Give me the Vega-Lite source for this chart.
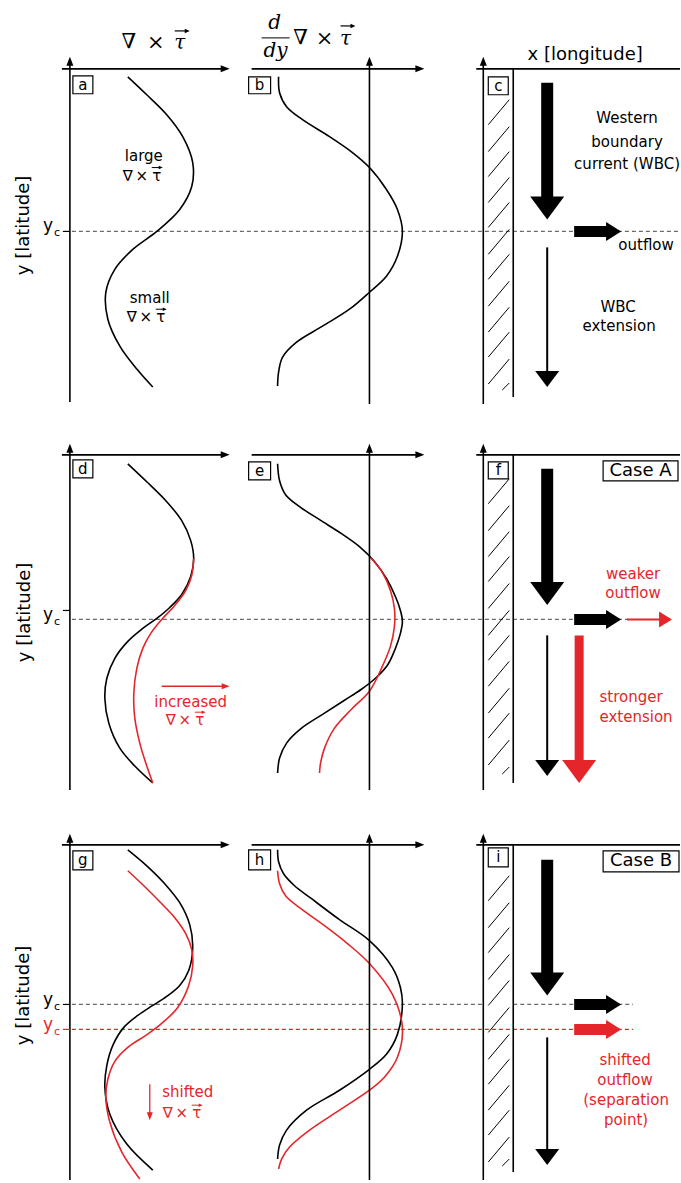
{
"$schema": "https://vega.github.io/schema/vega-lite/v6.json",
"width": 681, "height": 1183,
"autosize": {"type": "fit", "contains": "padding"},
"padding": 0,
"background": "white",
"config": {"view": {"stroke": null}},
"datasets": {
"curves": [
{"c":"a","i":0,"x":128,"y":77,"col":"k"},{"c":"a","i":1,"x":147,"y":95,"col":"k"},{"c":"a","i":2,"x":167,"y":115,"col":"k"},{"c":"a","i":3,"x":183,"y":137,"col":"k"},{"c":"a","i":4,"x":193,"y":163,"col":"k"},{"c":"a","i":5,"x":192,"y":187,"col":"k"},{"c":"a","i":6,"x":180,"y":210,"col":"k"},{"c":"a","i":7,"x":157,"y":232,"col":"k"},{"c":"a","i":8,"x":133,"y":250,"col":"k"},{"c":"a","i":9,"x":115,"y":270,"col":"k"},{"c":"a","i":10,"x":106,"y":293,"col":"k"},{"c":"a","i":11,"x":108,"y":320,"col":"k"},{"c":"a","i":12,"x":120,"y":347,"col":"k"},{"c":"a","i":13,"x":137,"y":370,"col":"k"},{"c":"a","i":14,"x":153,"y":388,"col":"k"},
{"c":"b","i":0,"x":279,"y":77,"col":"k"},{"c":"b","i":1,"x":280,"y":93,"col":"k"},{"c":"b","i":2,"x":287,"y":107,"col":"k"},{"c":"b","i":3,"x":303,"y":120,"col":"k"},{"c":"b","i":4,"x":330,"y":137,"col":"k"},{"c":"b","i":5,"x":353,"y":153,"col":"k"},{"c":"b","i":6,"x":370,"y":168,"col":"k"},{"c":"b","i":7,"x":387,"y":190,"col":"k"},{"c":"b","i":8,"x":398,"y":210,"col":"k"},{"c":"b","i":9,"x":403,"y":232,"col":"k"},{"c":"b","i":10,"x":398,"y":257,"col":"k"},{"c":"b","i":11,"x":387,"y":277,"col":"k"},{"c":"b","i":12,"x":370,"y":293,"col":"k"},{"c":"b","i":13,"x":350,"y":310,"col":"k"},{"c":"b","i":14,"x":323,"y":327,"col":"k"},{"c":"b","i":15,"x":297,"y":343,"col":"k"},{"c":"b","i":16,"x":283,"y":358,"col":"k"},{"c":"b","i":17,"x":279,"y":373,"col":"k"},{"c":"b","i":18,"x":278,"y":387,"col":"k"},
{"c":"d","i":0,"x":128,"y":465,"col":"k"},{"c":"d","i":1,"x":147,"y":483,"col":"k"},{"c":"d","i":2,"x":167,"y":503,"col":"k"},{"c":"d","i":3,"x":182,"y":522,"col":"k"},{"c":"d","i":4,"x":191,"y":542,"col":"k"},{"c":"d","i":5,"x":194,"y":560,"col":"k"},{"c":"d","i":6,"x":191,"y":578,"col":"k"},{"c":"d","i":7,"x":182,"y":596,"col":"k"},{"c":"d","i":8,"x":170,"y":609,"col":"k"},{"c":"d","i":9,"x":157,"y":620,"col":"k"},{"c":"d","i":10,"x":143,"y":630,"col":"k"},{"c":"d","i":11,"x":128,"y":643,"col":"k"},{"c":"d","i":12,"x":115,"y":660,"col":"k"},{"c":"d","i":13,"x":107,"y":680,"col":"k"},{"c":"d","i":14,"x":105,"y":700,"col":"k"},{"c":"d","i":15,"x":109,"y":725,"col":"k"},{"c":"d","i":16,"x":120,"y":750,"col":"k"},{"c":"d","i":17,"x":135,"y":768,"col":"k"},{"c":"d","i":18,"x":153,"y":785,"col":"k"},
{"c":"dr","i":0,"x":194,"y":560,"col":"r"},{"c":"dr","i":1,"x":192,"y":577,"col":"r"},{"c":"dr","i":2,"x":186,"y":592,"col":"r"},{"c":"dr","i":3,"x":175,"y":607,"col":"r"},{"c":"dr","i":4,"x":162,"y":621,"col":"r"},{"c":"dr","i":5,"x":151,"y":635,"col":"r"},{"c":"dr","i":6,"x":143,"y":650,"col":"r"},{"c":"dr","i":7,"x":137,"y":670,"col":"r"},{"c":"dr","i":8,"x":134,"y":695,"col":"r"},{"c":"dr","i":9,"x":135,"y":720,"col":"r"},{"c":"dr","i":10,"x":140,"y":745,"col":"r"},{"c":"dr","i":11,"x":146,"y":765,"col":"r"},{"c":"dr","i":12,"x":153,"y":785,"col":"r"},
{"c":"e","i":0,"x":278,"y":465,"col":"k"},{"c":"e","i":1,"x":280,"y":482,"col":"k"},{"c":"e","i":2,"x":286,"y":496,"col":"k"},{"c":"e","i":3,"x":300,"y":508,"col":"k"},{"c":"e","i":4,"x":320,"y":521,"col":"k"},{"c":"e","i":5,"x":342,"y":535,"col":"k"},{"c":"e","i":6,"x":360,"y":548,"col":"k"},{"c":"e","i":7,"x":375,"y":563,"col":"k"},{"c":"e","i":8,"x":387,"y":580,"col":"k"},{"c":"e","i":9,"x":396,"y":598,"col":"k"},{"c":"e","i":10,"x":401,"y":612,"col":"k"},{"c":"e","i":11,"x":403,"y":623,"col":"k"},{"c":"e","i":12,"x":401,"y":635,"col":"k"},{"c":"e","i":13,"x":396,"y":650,"col":"k"},{"c":"e","i":14,"x":388,"y":667,"col":"k"},{"c":"e","i":15,"x":376,"y":680,"col":"k"},{"c":"e","i":16,"x":362,"y":691,"col":"k"},{"c":"e","i":17,"x":345,"y":702,"col":"k"},{"c":"e","i":18,"x":325,"y":715,"col":"k"},{"c":"e","i":19,"x":302,"y":730,"col":"k"},{"c":"e","i":20,"x":287,"y":745,"col":"k"},{"c":"e","i":21,"x":280,"y":760,"col":"k"},{"c":"e","i":22,"x":278,"y":775,"col":"k"},
{"c":"er","i":0,"x":371,"y":559,"col":"r"},{"c":"er","i":1,"x":383,"y":574,"col":"r"},{"c":"er","i":2,"x":391,"y":592,"col":"r"},{"c":"er","i":3,"x":395,"y":610,"col":"r"},{"c":"er","i":4,"x":395,"y":628,"col":"r"},{"c":"er","i":5,"x":391,"y":648,"col":"r"},{"c":"er","i":6,"x":382,"y":670,"col":"r"},{"c":"er","i":7,"x":370,"y":693,"col":"r"},{"c":"er","i":8,"x":352,"y":711,"col":"r"},{"c":"er","i":9,"x":335,"y":730,"col":"r"},{"c":"er","i":10,"x":325,"y":750,"col":"r"},{"c":"er","i":11,"x":321,"y":765,"col":"r"},{"c":"er","i":12,"x":320,"y":775,"col":"r"},
{"c":"g","i":0,"x":128,"y":852,"col":"k"},{"c":"g","i":1,"x":147,"y":868,"col":"k"},{"c":"g","i":2,"x":165,"y":886,"col":"k"},{"c":"g","i":3,"x":180,"y":905,"col":"k"},{"c":"g","i":4,"x":190,"y":927,"col":"k"},{"c":"g","i":5,"x":193,"y":950,"col":"k"},{"c":"g","i":6,"x":189,"y":973,"col":"k"},{"c":"g","i":7,"x":180,"y":988,"col":"k"},{"c":"g","i":8,"x":167,"y":999,"col":"k"},{"c":"g","i":9,"x":153,"y":1008,"col":"k"},{"c":"g","i":10,"x":138,"y":1018,"col":"k"},{"c":"g","i":11,"x":124,"y":1030,"col":"k"},{"c":"g","i":12,"x":113,"y":1048,"col":"k"},{"c":"g","i":13,"x":107,"y":1068,"col":"k"},{"c":"g","i":14,"x":105,"y":1090,"col":"k"},{"c":"g","i":15,"x":110,"y":1117,"col":"k"},{"c":"g","i":16,"x":127,"y":1147,"col":"k"},{"c":"g","i":17,"x":153,"y":1173,"col":"k"},
{"c":"gr","i":0,"x":128,"y":873,"col":"r"},{"c":"gr","i":1,"x":144,"y":888,"col":"r"},{"c":"gr","i":2,"x":160,"y":904,"col":"r"},{"c":"gr","i":3,"x":175,"y":920,"col":"r"},{"c":"gr","i":4,"x":186,"y":936,"col":"r"},{"c":"gr","i":5,"x":192,"y":952,"col":"r"},{"c":"gr","i":6,"x":193,"y":968,"col":"r"},{"c":"gr","i":7,"x":189,"y":988,"col":"r"},{"c":"gr","i":8,"x":178,"y":1010,"col":"r"},{"c":"gr","i":9,"x":162,"y":1026,"col":"r"},{"c":"gr","i":10,"x":146,"y":1038,"col":"r"},{"c":"gr","i":11,"x":128,"y":1050,"col":"r"},{"c":"gr","i":12,"x":115,"y":1064,"col":"r"},{"c":"gr","i":13,"x":108,"y":1082,"col":"r"},{"c":"gr","i":14,"x":106,"y":1100,"col":"r"},{"c":"gr","i":15,"x":110,"y":1125,"col":"r"},{"c":"gr","i":16,"x":122,"y":1155,"col":"r"},{"c":"gr","i":17,"x":140,"y":1182,"col":"r"},
{"c":"h","i":0,"x":278,"y":852,"col":"k"},{"c":"h","i":1,"x":279,"y":864,"col":"k"},{"c":"h","i":2,"x":284,"y":876,"col":"k"},{"c":"h","i":3,"x":295,"y":888,"col":"k"},{"c":"h","i":4,"x":312,"y":901,"col":"k"},{"c":"h","i":5,"x":340,"y":922,"col":"k"},{"c":"h","i":6,"x":370,"y":943,"col":"k"},{"c":"h","i":7,"x":393,"y":970,"col":"k"},{"c":"h","i":8,"x":401,"y":990,"col":"k"},{"c":"h","i":9,"x":403,"y":1007,"col":"k"},{"c":"h","i":10,"x":398,"y":1037,"col":"k"},{"c":"h","i":11,"x":387,"y":1057,"col":"k"},{"c":"h","i":12,"x":370,"y":1072,"col":"k"},{"c":"h","i":13,"x":340,"y":1093,"col":"k"},{"c":"h","i":14,"x":307,"y":1113,"col":"k"},{"c":"h","i":15,"x":287,"y":1133,"col":"k"},{"c":"h","i":16,"x":280,"y":1148,"col":"k"},{"c":"h","i":17,"x":278,"y":1162,"col":"k"},
{"c":"hr","i":0,"x":278,"y":873,"col":"r"},{"c":"hr","i":1,"x":280,"y":886,"col":"r"},{"c":"hr","i":2,"x":286,"y":898,"col":"r"},{"c":"hr","i":3,"x":300,"y":910,"col":"r"},{"c":"hr","i":4,"x":325,"y":928,"col":"r"},{"c":"hr","i":5,"x":348,"y":946,"col":"r"},{"c":"hr","i":6,"x":370,"y":966,"col":"r"},{"c":"hr","i":7,"x":393,"y":997,"col":"r"},{"c":"hr","i":8,"x":403,"y":1030,"col":"r"},{"c":"hr","i":9,"x":398,"y":1060,"col":"r"},{"c":"hr","i":10,"x":385,"y":1080,"col":"r"},{"c":"hr","i":11,"x":370,"y":1093,"col":"r"},{"c":"hr","i":12,"x":340,"y":1113,"col":"r"},{"c":"hr","i":13,"x":310,"y":1133,"col":"r"},{"c":"hr","i":14,"x":290,"y":1150,"col":"r"},{"c":"hr","i":15,"x":282,"y":1162,"col":"r"},{"c":"hr","i":16,"x":279,"y":1172,"col":"r"}
],
"dashes": [
{"x":72,"y":232,"x2":681,"y2":232,"col":"g"},
{"x":72,"y":621,"x2":630,"y2":621,"col":"g"},
{"x":72,"y":1007,"x2":484,"y2":1007,"col":"g"},
{"x":514,"y":1007,"x2":634,"y2":1007,"col":"g"},
{"x":72,"y":1032,"x2":634,"y2":1032,"col":"r"}
],
"segs": [
{"x":70,"y":62,"x2":70,"y2":403,"k":"ax","col":"k"},{"x":62,"y":69,"x2":225,"y2":69,"k":"ax","col":"k"},
{"x":370,"y":62,"x2":370,"y2":405,"k":"ax","col":"k"},{"x":252,"y":69,"x2":420,"y2":69,"k":"ax","col":"k"},
{"x":484,"y":62,"x2":484,"y2":405,"k":"ax","col":"k"},{"x":477,"y":69,"x2":681,"y2":69,"k":"ax","col":"k"},{"x":514,"y":69,"x2":514,"y2":398,"k":"ax","col":"k"},
{"x":70,"y":450,"x2":70,"y2":792,"k":"ax","col":"k"},{"x":62,"y":456,"x2":225,"y2":456,"k":"ax","col":"k"},
{"x":370,"y":450,"x2":370,"y2":792,"k":"ax","col":"k"},{"x":252,"y":456,"x2":420,"y2":456,"k":"ax","col":"k"},
{"x":484,"y":450,"x2":484,"y2":792,"k":"ax","col":"k"},{"x":477,"y":456,"x2":681,"y2":456,"k":"ax","col":"k"},{"x":514,"y":456,"x2":514,"y2":785,"k":"ax","col":"k"},
{"x":70,"y":841,"x2":70,"y2":1183,"k":"ax","col":"k"},{"x":62,"y":847,"x2":225,"y2":847,"k":"ax","col":"k"},
{"x":370,"y":841,"x2":370,"y2":1183,"k":"ax","col":"k"},{"x":252,"y":847,"x2":420,"y2":847,"k":"ax","col":"k"},
{"x":484,"y":841,"x2":484,"y2":1183,"k":"ax","col":"k"},{"x":477,"y":847,"x2":681,"y2":847,"k":"ax","col":"k"},{"x":514,"y":847,"x2":514,"y2":1175,"k":"ax","col":"k"},
{"x":63,"y":232,"x2":70,"y2":232,"k":"tk","col":"k"},{"x":63,"y":612,"x2":70,"y2":612,"k":"tk","col":"k"},{"x":63,"y":1007,"x2":70,"y2":1007,"k":"tk","col":"k"},{"x":63,"y":1032,"x2":70,"y2":1032,"k":"tk","col":"r"},
{"x":489,"y":125,"x2":510,"y2":100,"k":"hatch","col":"k"},{"x":489,"y":152,"x2":510,"y2":127,"k":"hatch","col":"k"},{"x":489,"y":177,"x2":510,"y2":152,"k":"hatch","col":"k"},{"x":489,"y":203,"x2":510,"y2":178,"k":"hatch","col":"k"},{"x":489,"y":228,"x2":510,"y2":203,"k":"hatch","col":"k"},{"x":489,"y":255,"x2":510,"y2":230,"k":"hatch","col":"k"},{"x":489,"y":280,"x2":510,"y2":255,"k":"hatch","col":"k"},{"x":489,"y":307,"x2":510,"y2":282,"k":"hatch","col":"k"},{"x":489,"y":333,"x2":510,"y2":308,"k":"hatch","col":"k"},{"x":489,"y":358,"x2":510,"y2":333,"k":"hatch","col":"k"},{"x":489,"y":385,"x2":510,"y2":360,"k":"hatch","col":"k"},{"x":503,"y":391,"x2":510,"y2":384,"k":"hatch","col":"k"},
{"x":489,"y":505,"x2":510,"y2":480,"k":"hatch","col":"k"},{"x":489,"y":532,"x2":510,"y2":507,"k":"hatch","col":"k"},{"x":489,"y":558,"x2":510,"y2":533,"k":"hatch","col":"k"},{"x":489,"y":583,"x2":510,"y2":558,"k":"hatch","col":"k"},{"x":489,"y":610,"x2":510,"y2":585,"k":"hatch","col":"k"},{"x":489,"y":637,"x2":510,"y2":612,"k":"hatch","col":"k"},{"x":489,"y":662,"x2":510,"y2":637,"k":"hatch","col":"k"},{"x":489,"y":688,"x2":510,"y2":663,"k":"hatch","col":"k"},{"x":489,"y":715,"x2":510,"y2":690,"k":"hatch","col":"k"},{"x":489,"y":740,"x2":510,"y2":715,"k":"hatch","col":"k"},{"x":489,"y":767,"x2":510,"y2":742,"k":"hatch","col":"k"},{"x":503,"y":776,"x2":510,"y2":769,"k":"hatch","col":"k"},
{"x":489,"y":903,"x2":510,"y2":878,"k":"hatch","col":"k"},{"x":489,"y":930,"x2":510,"y2":905,"k":"hatch","col":"k"},{"x":489,"y":955,"x2":510,"y2":930,"k":"hatch","col":"k"},{"x":489,"y":982,"x2":510,"y2":957,"k":"hatch","col":"k"},{"x":489,"y":1008,"x2":510,"y2":983,"k":"hatch","col":"k"},{"x":489,"y":1035,"x2":510,"y2":1010,"k":"hatch","col":"k"},{"x":489,"y":1062,"x2":510,"y2":1037,"k":"hatch","col":"k"},{"x":489,"y":1087,"x2":510,"y2":1062,"k":"hatch","col":"k"},{"x":489,"y":1113,"x2":510,"y2":1088,"k":"hatch","col":"k"},{"x":489,"y":1138,"x2":510,"y2":1113,"k":"hatch","col":"k"},{"x":489,"y":1165,"x2":510,"y2":1140,"k":"hatch","col":"k"},{"x":503,"y":1169,"x2":510,"y2":1162,"k":"hatch","col":"k"},
{"x":548,"y":83,"x2":548,"y2":199,"k":"big","col":"k"},{"x":548,"y":470,"x2":548,"y2":585,"k":"big","col":"k"},{"x":548,"y":862,"x2":548,"y2":977,"k":"big","col":"k"},
{"x":575,"y":232,"x2":608,"y2":232,"k":"out","col":"k"},{"x":575,"y":621,"x2":608,"y2":621,"k":"out","col":"k"},{"x":575,"y":1007,"x2":608,"y2":1007,"k":"out","col":"k"},{"x":575,"y":1032,"x2":608,"y2":1032,"k":"out","col":"r"},
{"x":548,"y":248,"x2":548,"y2":374,"k":"thin","col":"k"},{"x":548,"y":637,"x2":548,"y2":764,"k":"thin","col":"k"},{"x":548,"y":1040,"x2":548,"y2":1154,"k":"thin","col":"k"},{"x":628,"y":621,"x2":662,"y2":621,"k":"thin","col":"r"},
{"x":580,"y":637,"x2":580,"y2":764,"k":"redbig","col":"r"},
{"x":162,"y":688,"x2":225,"y2":688,"k":"ann","col":"r"},{"x":150,"y":1087,"x2":150,"y2":1118,"k":"ann","col":"r"},
{"x":262,"y":38,"x2":290,"y2":38,"k":"frac","col":"k"},
{"x":152,"y":168,"x2":160,"y2":168,"k":"vec","col":"k"},{"x":156,"y":310,"x2":164,"y2":310,"k":"vec","col":"k"},{"x":195,"y":714,"x2":203,"y2":714,"k":"vec","col":"r"},{"x":192,"y":1108,"x2":200,"y2":1108,"k":"vec","col":"r"},
{"x":175,"y":31,"x2":186,"y2":31,"k":"vecT","col":"k"},{"x":341,"y":26,"x2":352,"y2":26,"k":"vecT","col":"k"}
],
"heads": [
{"x":70,"y":61.5,"k":"axup","col":"k"},{"x":370,"y":61.5,"k":"axup","col":"k"},{"x":484,"y":61.5,"k":"axup","col":"k"},
{"x":70,"y":449.5,"k":"axup","col":"k"},{"x":370,"y":449.5,"k":"axup","col":"k"},{"x":484,"y":449.5,"k":"axup","col":"k"},
{"x":70,"y":840.5,"k":"axup","col":"k"},{"x":370,"y":840.5,"k":"axup","col":"k"},{"x":484,"y":840.5,"k":"axup","col":"k"},
{"x":225.5,"y":69,"k":"axright","col":"k"},{"x":420.5,"y":69,"k":"axright","col":"k"},
{"x":225.5,"y":456,"k":"axright","col":"k"},{"x":420.5,"y":456,"k":"axright","col":"k"},
{"x":225.5,"y":847,"k":"axright","col":"k"},{"x":420.5,"y":847,"k":"axright","col":"k"},
{"x":548,"y":208.5,"k":"bigdown","col":"k"},{"x":548,"y":595,"k":"bigdown","col":"k"},{"x":548,"y":986.5,"k":"bigdown","col":"k"},{"x":580,"y":773.5,"k":"bigdown","col":"r"},
{"x":548,"y":380,"k":"thindown","col":"k"},{"x":548,"y":770,"k":"thindown","col":"k"},{"x":548,"y":1160,"k":"thindown","col":"k"},
{"x":614.5,"y":232,"k":"outright","col":"k"},{"x":614.5,"y":621,"k":"outright","col":"k"},{"x":614.5,"y":1007,"k":"outright","col":"k"},{"x":614.5,"y":1032,"k":"outright","col":"r"},
{"x":666.5,"y":621,"k":"redright","col":"r"},
{"x":226,"y":688,"k":"smallright","col":"r"},
{"x":150,"y":1119,"k":"smalldown","col":"r"},
{"x":161,"y":168,"k":"vechead","col":"k"},{"x":165,"y":310,"k":"vechead","col":"k"},{"x":204,"y":714,"k":"vechead","col":"r"},{"x":201,"y":1108,"k":"vechead","col":"r"},
{"x":187.5,"y":31,"k":"vecThead","col":"k"},{"x":353.5,"y":26,"k":"vecThead","col":"k"}
],
"boxes": [
{"x":73,"y":76,"x2":93,"y2":94},{"x":249,"y":77,"x2":271,"y2":94},{"x":489,"y":77,"x2":509,"y2":95},
{"x":73,"y":461,"x2":93,"y2":479},{"x":249,"y":463,"x2":271,"y2":481},{"x":489,"y":463,"x2":509,"y2":480},{"x":604,"y":462,"x2":679,"y2":482},
{"x":73,"y":853,"x2":93,"y2":872},{"x":249,"y":852,"x2":271,"y2":872},{"x":489,"y":850,"x2":509,"y2":869},{"x":604,"y":853,"x2":680,"y2":874}
],
"letters": [
{"x":83,"y":85,"t":"a"},{"x":260,"y":85.5,"t":"b"},{"x":499,"y":86,"t":"c"},
{"x":83,"y":470,"t":"d"},{"x":260,"y":472,"t":"e"},{"x":499,"y":471.5,"t":"f"},
{"x":83,"y":862.5,"t":"g"},{"x":260,"y":862,"t":"h"},{"x":499,"y":859.5,"t":"i"}
],
"t15": [
{"x":144,"y":156,"t":"large","col":"k"},
{"x":128,"y":176,"t":"∇","col":"k"},{"x":142,"y":176,"t":"×","col":"k"},{"x":157,"y":176,"t":"τ","col":"k"},
{"x":150,"y":299,"t":"small","col":"k"},
{"x":132,"y":318,"t":"∇","col":"k"},{"x":146,"y":318,"t":"×","col":"k"},{"x":161,"y":318,"t":"τ","col":"k"},
{"x":628,"y":118,"t":"Western","col":"k"},{"x":628,"y":142,"t":"boundary","col":"k"},{"x":628,"y":164,"t":"current (WBC)","col":"k"},
{"x":647,"y":246,"t":"outflow","col":"k"},{"x":619,"y":308,"t":"WBC","col":"k"},{"x":620,"y":327,"t":"extension","col":"k"},
{"x":191,"y":704,"t":"increased","col":"r"},
{"x":171,"y":722,"t":"∇","col":"r"},{"x":185,"y":722,"t":"×","col":"r"},{"x":200,"y":722,"t":"τ","col":"r"},
{"x":634,"y":575,"t":"weaker","col":"r"},{"x":634,"y":595,"t":"outflow","col":"r"},
{"x":632,"y":699,"t":"stronger","col":"r"},{"x":637,"y":719,"t":"extension","col":"r"},
{"x":188,"y":1095,"t":"shifted","col":"r"},
{"x":168,"y":1116,"t":"∇","col":"r"},{"x":182,"y":1116,"t":"×","col":"r"},{"x":197,"y":1116,"t":"τ","col":"r"},
{"x":626,"y":1063,"t":"shifted","col":"r"},{"x":626,"y":1083,"t":"outflow","col":"r"},{"x":627,"y":1103,"t":"(separation","col":"r"},{"x":627,"y":1123,"t":"point)","col":"r"}
],
"t18": [
{"x":586,"y":55,"t":"x [longitude]"},{"x":641.5,"y":472,"t":"Case A"},{"x":642,"y":863.5,"t":"Case B"}
],
"rot": [
{"x":24,"y":226,"t":"y [latitude]"},{"x":25,"y":614,"t":"y [latitude]"},{"x":24,"y":998,"t":"y [latitude]"}
],
"ycy": [
{"x":48,"y":232,"t":"y","col":"k"},{"x":48,"y":622,"t":"y","col":"k"},{"x":48,"y":1008,"t":"y","col":"k"},{"x":48,"y":1033,"t":"y","col":"r"}
],
"ycc": [
{"x":57,"y":237,"t":"c","col":"k"},{"x":57,"y":627,"t":"c","col":"k"},{"x":57,"y":1013,"t":"c","col":"k"},{"x":57,"y":1038,"t":"c","col":"r"}
],
"serif": [
{"x":129,"y":42,"t":"∇"},{"x":156,"y":43,"t":"×"},{"x":301,"y":38,"t":"∇"},{"x":325,"y":39,"t":"×"}
],
"serifit": [
{"x":180,"y":43,"t":"τ"},{"x":346,"y":39,"t":"τ"},{"x":275,"y":23,"t":"d"},{"x":276,"y":51,"t":"dy"}
]
},
"layer": [
{
"data": {"name": "dashes"},
"mark": {"type": "rule", "strokeDash": [4, 3], "strokeWidth": 1.3},
"encoding": {
"x": {"field": "x", "type": "quantitative", "scale": {"domain": [0, 681], "nice": false, "zero": false}, "axis": null},
"y": {"field": "y", "type": "quantitative", "scale": {"domain": [0, 1183], "nice": false, "zero": false, "reverse": true}, "axis": null},
"x2": {"field": "x2"}, "y2": {"field": "y2"},
"color": {"field": "col", "type": "nominal", "scale": {"domain": ["k", "r", "g"], "range": ["#000000", "#e4262b", "#6b6b6b"]}, "legend": null}
}
},
{
"data": {"name": "curves"},
"mark": {"type": "line", "interpolate": "catmull-rom", "strokeWidth": 1.6},
"encoding": {
"x": {"field": "x", "type": "quantitative", "scale": {"domain": [0, 681], "nice": false, "zero": false}, "axis": null},
"y": {"field": "y", "type": "quantitative", "scale": {"domain": [0, 1183], "nice": false, "zero": false, "reverse": true}, "axis": null},
"detail": {"field": "c"},
"order": {"field": "i", "type": "quantitative"},
"color": {"field": "col", "type": "nominal", "scale": {"domain": ["k", "r", "g"], "range": ["#000000", "#e4262b", "#6b6b6b"]}, "legend": null}
}
},
{
"data": {"name": "segs"},
"mark": {"type": "rule", "strokeCap": "butt"},
"encoding": {
"x": {"field": "x", "type": "quantitative", "scale": {"domain": [0, 681], "nice": false, "zero": false}, "axis": null},
"y": {"field": "y", "type": "quantitative", "scale": {"domain": [0, 1183], "nice": false, "zero": false, "reverse": true}, "axis": null},
"x2": {"field": "x2"}, "y2": {"field": "y2"},
"strokeWidth": {"field": "k", "type": "nominal", "scale": {"type": "ordinal", "domain": ["ax", "tk", "hatch", "big", "out", "thin", "redbig", "ann", "frac", "vec", "vecT"], "range": [1.6, 1.2, 1.0, 12, 11, 2, 9, 1.3, 1.0, 1.0, 1.2]}, "legend": null},
"color": {"field": "col", "type": "nominal", "scale": {"domain": ["k", "r", "g"], "range": ["#000000", "#e4262b", "#6b6b6b"]}, "legend": null}
}
},
{
"data": {"name": "heads"},
"mark": {"type": "point", "filled": true, "opacity": 1, "strokeWidth": 0},
"encoding": {
"x": {"field": "x", "type": "quantitative", "scale": {"domain": [0, 681], "nice": false, "zero": false}, "axis": null},
"y": {"field": "y", "type": "quantitative", "scale": {"domain": [0, 1183], "nice": false, "zero": false, "reverse": true}, "axis": null},
"shape": {"field": "k", "type": "nominal", "scale": {"domain": ["axup", "axright", "bigdown", "thindown", "outright", "redright", "smallright", "smalldown", "vechead", "vecThead"], "range": ["M-0.78,1L0,-1L0.78,1Z", "M-1,-0.78L1,0L-1,0.78Z", "M-1,-0.68L1,-0.68L0,0.68Z", "M-1,-0.67L1,-0.67L0,0.67Z", "M-0.79,-1L0.79,0L-0.79,1Z", "M-0.81,-1L0.81,0L-0.81,1Z", "M-1,-0.75L1,0L-1,0.75Z", "M-0.75,-1L0.75,-1L0,1Z", "M-1,-0.9L1,0L-1,0.9Z", "M-1,-0.9L1,0L-1,0.9Z"]}, "legend": null},
"size": {"field": "k", "type": "nominal", "scale": {"type": "ordinal", "domain": ["axup", "axright", "bigdown", "thindown", "outright", "redright", "smallright", "smalldown", "vechead", "vecThead"], "range": [81, 81, 1156, 576, 361, 256, 64, 64, 16, 25]}, "legend": null},
"color": {"field": "col", "type": "nominal", "scale": {"domain": ["k", "r", "g"], "range": ["#000000", "#e4262b", "#6b6b6b"]}, "legend": null}
}
},
{
"data": {"name": "boxes"},
"mark": {"type": "rect", "fill": "white", "stroke": "black", "strokeWidth": 1.2},
"encoding": {
"x": {"field": "x", "type": "quantitative", "scale": {"domain": [0, 681], "nice": false, "zero": false}, "axis": null},
"y": {"field": "y", "type": "quantitative", "scale": {"domain": [0, 1183], "nice": false, "zero": false, "reverse": true}, "axis": null},
"x2": {"field": "x2"}, "y2": {"field": "y2"}
}
},
{
"data": {"name": "letters"},
"mark": {"type": "text", "font": "DejaVu Sans", "fontSize": 15, "align": "center", "baseline": "middle", "color": "black"},
"encoding": {
"x": {"field": "x", "type": "quantitative", "scale": {"domain": [0, 681], "nice": false, "zero": false}, "axis": null},
"y": {"field": "y", "type": "quantitative", "scale": {"domain": [0, 1183], "nice": false, "zero": false, "reverse": true}, "axis": null},
"text": {"field": "t"}
}
},
{
"data": {"name": "t15"},
"mark": {"type": "text", "font": "DejaVu Sans", "fontSize": 15, "align": "center", "baseline": "middle"},
"encoding": {
"x": {"field": "x", "type": "quantitative", "scale": {"domain": [0, 681], "nice": false, "zero": false}, "axis": null},
"y": {"field": "y", "type": "quantitative", "scale": {"domain": [0, 1183], "nice": false, "zero": false, "reverse": true}, "axis": null},
"text": {"field": "t"},
"color": {"field": "col", "type": "nominal", "scale": {"domain": ["k", "r", "g"], "range": ["#000000", "#e4262b", "#6b6b6b"]}, "legend": null}
}
},
{
"data": {"name": "t18"},
"mark": {"type": "text", "font": "DejaVu Sans", "fontSize": 18, "align": "center", "baseline": "middle", "color": "black"},
"encoding": {
"x": {"field": "x", "type": "quantitative", "scale": {"domain": [0, 681], "nice": false, "zero": false}, "axis": null},
"y": {"field": "y", "type": "quantitative", "scale": {"domain": [0, 1183], "nice": false, "zero": false, "reverse": true}, "axis": null},
"text": {"field": "t"}
}
},
{
"data": {"name": "rot"},
"mark": {"type": "text", "font": "DejaVu Sans", "fontSize": 18, "align": "center", "baseline": "middle", "angle": 270, "color": "black"},
"encoding": {
"x": {"field": "x", "type": "quantitative", "scale": {"domain": [0, 681], "nice": false, "zero": false}, "axis": null},
"y": {"field": "y", "type": "quantitative", "scale": {"domain": [0, 1183], "nice": false, "zero": false, "reverse": true}, "axis": null},
"text": {"field": "t"}
}
},
{
"data": {"name": "ycy"},
"mark": {"type": "text", "font": "DejaVu Sans", "fontSize": 17, "align": "center", "baseline": "alphabetic"},
"encoding": {
"x": {"field": "x", "type": "quantitative", "scale": {"domain": [0, 681], "nice": false, "zero": false}, "axis": null},
"y": {"field": "y", "type": "quantitative", "scale": {"domain": [0, 1183], "nice": false, "zero": false, "reverse": true}, "axis": null},
"text": {"field": "t"},
"color": {"field": "col", "type": "nominal", "scale": {"domain": ["k", "r", "g"], "range": ["#000000", "#e4262b", "#6b6b6b"]}, "legend": null}
}
},
{
"data": {"name": "ycc"},
"mark": {"type": "text", "font": "DejaVu Sans", "fontSize": 11, "align": "center", "baseline": "alphabetic"},
"encoding": {
"x": {"field": "x", "type": "quantitative", "scale": {"domain": [0, 681], "nice": false, "zero": false}, "axis": null},
"y": {"field": "y", "type": "quantitative", "scale": {"domain": [0, 1183], "nice": false, "zero": false, "reverse": true}, "axis": null},
"text": {"field": "t"},
"color": {"field": "col", "type": "nominal", "scale": {"domain": ["k", "r", "g"], "range": ["#000000", "#e4262b", "#6b6b6b"]}, "legend": null}
}
},
{
"data": {"name": "serif"},
"mark": {"type": "text", "font": "DejaVu Serif", "fontSize": 21, "align": "center", "baseline": "middle", "color": "black"},
"encoding": {
"x": {"field": "x", "type": "quantitative", "scale": {"domain": [0, 681], "nice": false, "zero": false}, "axis": null},
"y": {"field": "y", "type": "quantitative", "scale": {"domain": [0, 1183], "nice": false, "zero": false, "reverse": true}, "axis": null},
"text": {"field": "t"}
}
},
{
"data": {"name": "serifit"},
"mark": {"type": "text", "font": "DejaVu Serif", "fontStyle": "italic", "fontSize": 20, "align": "center", "baseline": "middle", "color": "black"},
"encoding": {
"x": {"field": "x", "type": "quantitative", "scale": {"domain": [0, 681], "nice": false, "zero": false}, "axis": null},
"y": {"field": "y", "type": "quantitative", "scale": {"domain": [0, 1183], "nice": false, "zero": false, "reverse": true}, "axis": null},
"text": {"field": "t"}
}
}
]
}
